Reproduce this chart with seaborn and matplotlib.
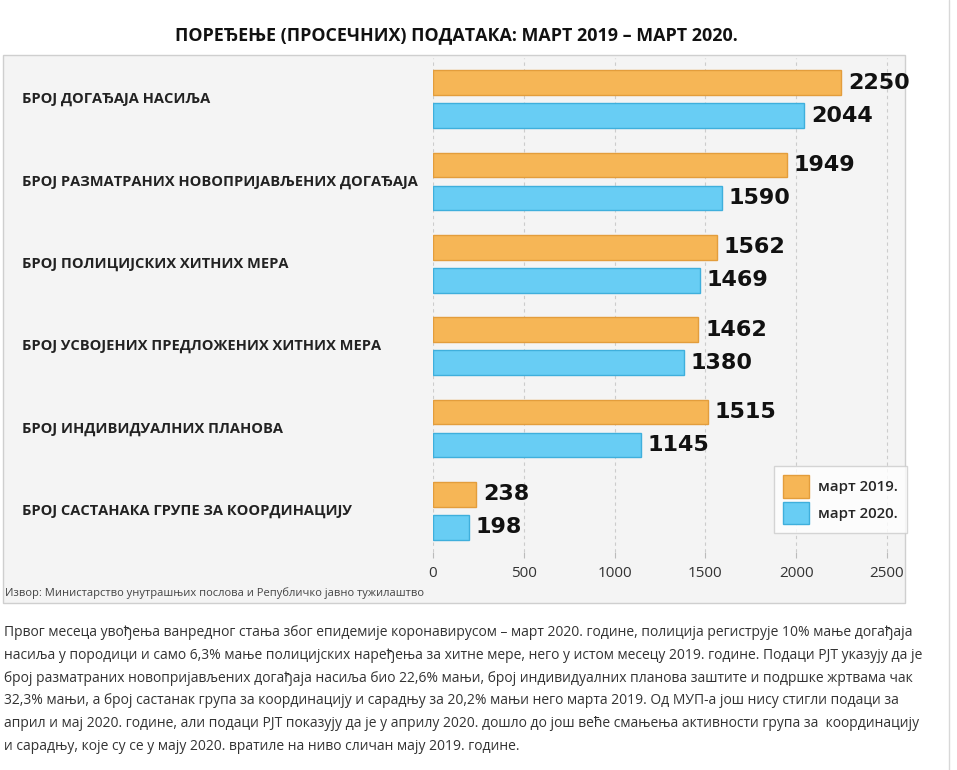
import pandas as pd
import seaborn as sns
import matplotlib.pyplot as plt
from matplotlib.patches import Rectangle
from matplotlib.transforms import blended_transform_factory

categories = [
    "БРОЈ ДОГАЂАЈА НАСИЉА",
    "БРОЈ РАЗМАТРАНИХ НОВОПРИЈАВЉЕНИХ ДОГАЂАЈА",
    "БРОЈ ПОЛИЦИЈСКИХ ХИТНИХ МЕРА",
    "БРОЈ УСВОЈЕНИХ ПРЕДЛОЖЕНИХ ХИТНИХ МЕРА",
    "БРОЈ ИНДИВИДУАЛНИХ ПЛАНОВА",
    "БРОЈ САСТАНАКА ГРУПЕ ЗА КООРДИНАЦИЈУ",
]
mart_2019 = [2250, 1949, 1562, 1462, 1515, 238]
mart_2020 = [2044, 1590, 1469, 1380, 1145, 198]
series = ["март 2019.", "март 2020."]
xticks = [0, 500, 1000, 1500, 2000, 2500]

title = "ПОРЕЂЕЊЕ (ПРОСЕЧНИХ) ПОДАТАКА: МАРТ 2019 – МАРТ 2020."
source = "Извор: Министарство унутрашњих послова и Републичко јавно тужилаштво"
paragraph = [
    "Првог месеца увођења ванредног стања због епидемије коронавирусом – март 2020. године, полиција региструје 10% мање догађаја",
    "насиља у породици и само 6,3% мање полицијских наређења за хитне мере, него у истом месецу 2019. године. Подаци РЈТ указују да је",
    "број разматраних новопријављених догађаја насиља био 22,6% мањи, број индивидуалних планова заштите и подршке жртвама чак",
    "32,3% мањи, а број састанак група за координацију и сарадњу за 20,2% мањи него марта 2019. Од МУП-а још нису стигли подаци за",
    "април и мај 2020. године, али подаци РЈТ показују да је у априлу 2020. дошло до још веће смањења активности група за  координацију",
    "и сарадњу, које су се у мају 2020. вратиле на ниво сличан мају 2019. године.",
]

df = pd.DataFrame({
    "category": categories * 2,
    "value": mart_2019 + mart_2020,
    "series": [series[0]] * len(categories) + [series[1]] * len(categories),
})

sns.set_style("white")
plt.rcParams['font.family'] = ['Open Sans', 'DejaVu Sans']

W, H = 957, 770
fig = plt.figure(figsize=(W / 100, H / 100), dpi=100)

# сива подлога графикона
fig.patches.append(Rectangle((3 / W, 1 - 603 / H), 902 / W, 548 / H, transform=fig.transFigure,
                             facecolor="#f4f4f4", edgecolor="#cfcfcf", lw=1, zorder=-5))
fig.add_artist(plt.Line2D([949 / W, 949 / W], [0, 1], color="#d8d8d8", lw=1, zorder=-5))

ax = fig.add_axes([433 / W, 1 - 552 / H, (905 - 433) / W, (552 - 58) / H])
ax.set_facecolor("none")

colors = {series[0]: "#f6b656", series[1]: "#68cdf4"}
edges = ["#e39d3c", "#3fafdc"]
sns.barplot(data=df, y="category", x="value", hue="series", palette=colors,
            orient="h", gap=0.25, saturation=1, ax=ax, legend=True)

for cont, ec in zip(ax.containers, edges):
    for bar in cont:
        bar.set_edgecolor(ec)
        bar.set_linewidth(1)
    ax.bar_label(cont, fmt="%d", padding=5, fontsize=16, fontweight="bold",
                 family="DejaVu Sans", color="#111111")

ax.set_xlim(0, 2600)
ax.set_ylim(5.5, -0.5)
ax.set_xticks(xticks)
ax.set_xticklabels([str(t) for t in xticks], fontsize=11, color="#333333")
ax.tick_params(axis="x", length=4, color="#bbbbbb", pad=6, bottom=True)
ax.set_yticks([])
ax.set_xlabel("")
ax.set_ylabel("")
for t in xticks:
    ax.axvline(t, color="#cccccc", lw=0.8, ls=(0, (3, 3)), zorder=0)
for s in ax.spines.values():
    s.set_visible(False)

trans = blended_transform_factory(fig.transFigure, ax.transData)
for i, c in enumerate(categories):
    ax.text(22 / W, i, c, transform=trans, ha="left", va="center", fontsize=10.55,
            fontweight="bold", color="#222222", clip_on=False)

leg = ax.legend(loc="lower right", bbox_to_anchor=(1.004, 0.038), borderaxespad=0,
                frameon=True, fontsize=10.8, handlelength=1.75, handleheight=1.9,
                handletextpad=0.6, borderpad=0.6, labelspacing=0.3,
                fancybox=False, edgecolor="#cccccc")
leg.get_frame().set_linewidth(1)
for h, ec in zip(leg.legend_handles, edges):
    h.set_edgecolor(ec)
for txt in leg.get_texts():
    txt.set_fontweight("semibold")

fig.text(456 / W, 1 - 35 / H, title, ha="center", va="center", fontsize=12.85,
         fontweight="bold", color="#111111")
fig.text(5 / W, 1 - 593 / H, source, ha="left", va="center", fontsize=8, color="#444444")

y0 = 633
for k, line in enumerate(paragraph):
    fig.text(4 / W, 1 - (y0 + k * 22.6) / H, line, ha="left", va="center", fontsize=10,
             color="#333333")

fig.savefig("out.png", dpi=100)
